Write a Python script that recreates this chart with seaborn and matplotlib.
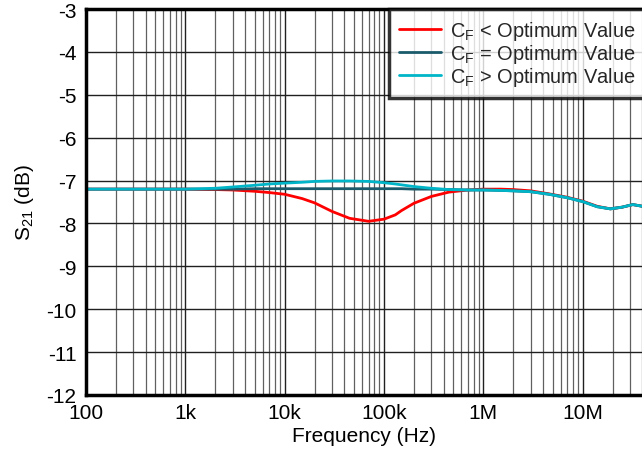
import numpy as np
import pandas as pd
import matplotlib
matplotlib.use("Agg")
import matplotlib.pyplot as plt
import matplotlib.ticker as mticker
import seaborn as sns

freq = [100, 300, 1e3, 2e3, 3e3, 5e3, 7e3, 10e3, 15e3, 20e3, 30e3, 45e3, 70e3,
        100e3, 130e3, 150e3, 200e3, 300e3, 450e3, 700e3, 1e6, 1.5e6, 2e6, 3e6,
        4.6e6, 7e6, 10e6, 14e6, 19e6, 25e6, 32e6, 40e6]
s21_low = [-7.2, -7.2, -7.2, -7.21, -7.22, -7.25, -7.28, -7.32, -7.42, -7.52, -7.72,
           -7.88, -7.95, -7.9, -7.8, -7.7, -7.53, -7.37, -7.27, -7.22, -7.2, -7.2,
           -7.21, -7.24, -7.31, -7.39, -7.48, -7.6, -7.66, -7.62, -7.56, -7.6]
s21_opt = [-7.2, -7.2, -7.2, -7.2, -7.2, -7.19, -7.19, -7.19, -7.19, -7.19, -7.19,
           -7.19, -7.19, -7.19, -7.19, -7.19, -7.2, -7.2, -7.21, -7.22, -7.22, -7.23,
           -7.24, -7.26, -7.32, -7.4, -7.49, -7.61, -7.66, -7.62, -7.56, -7.6]
s21_high = [-7.2, -7.2, -7.2, -7.18, -7.15, -7.11, -7.08, -7.06, -7.04, -7.02, -7.01,
            -7.01, -7.02, -7.05, -7.08, -7.1, -7.14, -7.18, -7.21, -7.22, -7.22, -7.23,
            -7.24, -7.26, -7.32, -7.4, -7.49, -7.61, -7.66, -7.62, -7.56, -7.6]
labels = [r"C$_\mathregular{F}$ < Optimum Value",
          r"C$_\mathregular{F}$ = Optimum Value",
          r"C$_\mathregular{F}$ > Optimum Value"]
colors = ["#FF0000", "#1B5A6B", "#00B5C8"]
xticks = [100, 1e3, 1e4, 1e5, 1e6, 1e7]
xticklabels = ["100", "1k", "10k", "100k", "1M", "10M"]
yticks = list(range(-12, -2))

sns.set_theme(style="white")
plt.rcParams["font.family"] = ["Liberation Sans", "DejaVu Sans"]
plt.rcParams["mathtext.fontset"] = "custom"
plt.rcParams["mathtext.rm"] = "Liberation Sans"

df = pd.concat([
    pd.DataFrame({"f": freq, "s": s21_low, "c": labels[0]}),
    pd.DataFrame({"f": freq, "s": s21_opt, "c": labels[1]}),
    pd.DataFrame({"f": freq, "s": s21_high, "c": labels[2]}),
])

fig = plt.figure(figsize=(6.42, 4.52), dpi=100)
ax = fig.add_axes([86/642, 56/452, (682-86)/642, 386/452])
sns.lineplot(data=df, x="f", y="s", hue="c", palette=colors, linewidth=2.0,
             ax=ax, legend=False, sort=False)
ax.set_xscale("log")
ax.set_xlim(100, 1e8)
ax.set_ylim(-12, -3)
ax.set_xticks(xticks)
ax.set_xticklabels(xticklabels)
ax.xaxis.set_minor_locator(mticker.LogLocator(base=10, subs=np.arange(2, 10)))
ax.xaxis.set_minor_formatter(mticker.NullFormatter())
ax.set_yticks(yticks)
ax.set_yticklabels([str(v) for v in yticks])
ax.grid(True, which="major", axis="both", color="#202020", linewidth=1.0)
ax.grid(True, which="minor", axis="x", color="#606060", linewidth=0.9)
ax.tick_params(axis="both", which="both", length=0, labelsize=15, colors="black")
ax.tick_params(axis="x", pad=6)
ax.tick_params(axis="y", pad=7)
for sp in ax.spines.values():
    sp.set_color("black")
    sp.set_linewidth(2.5)
ax.set_xlabel("Frequency (Hz)", fontsize=15, color="black")
ax.xaxis.set_label_coords((364 - 86) / 596, -31 / 386)
ax.set_ylabel(r"S$_\mathregular{21}$ (dB)", fontsize=15, color="black", labelpad=7)

handles = [plt.Line2D([], [], color=c, linewidth=2.0) for c in colors]
leg = fig.legend(handles, labels, loc="upper left", bbox_to_anchor=(389/642, 1 - 10/452),
                 frameon=True, fancybox=False, fontsize=14.4, borderaxespad=0,
                 handlelength=2.1, handletextpad=0.45, labelspacing=0.0, borderpad=0.5)
leg.get_frame().set_edgecolor("black")
leg.get_frame().set_linewidth(2.5)

fig.savefig("out.png", dpi=100)
